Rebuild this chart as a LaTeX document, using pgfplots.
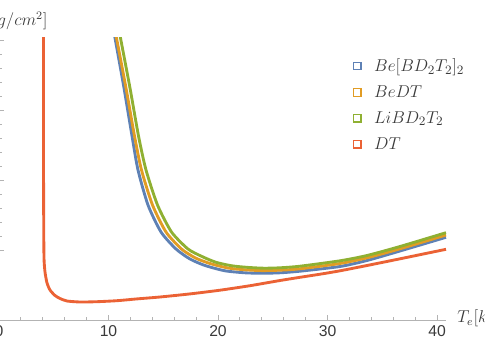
\documentclass[border=0pt]{standalone}
\usepackage{fontspec}
\setsansfont{Liberation Sans}
\usepackage{pgfplots}
\pgfplotsset{compat=1.18}
\definecolor{mblue}{HTML}{5E81B5}
\definecolor{morange}{HTML}{E19C24}
\definecolor{mgreen}{HTML}{8FB032}
\definecolor{mred}{HTML}{EB6235}
\definecolor{axgray}{HTML}{B3B3B3}
\definecolor{txtgray}{HTML}{3A3A3A}
\begin{document}
\begin{tikzpicture}
\begin{pgfinterruptboundingbox}
\begin{axis}[
  x=7.665pt, y=9.8pt,
  xmin=0, xmax=40.85, ymin=0, ymax=20.2,
  axis lines*=left,
  axis line style={axgray, line width=0.6pt},
  clip mode=individual,
  tick align=inside,
  tick style={axgray, line width=0.6pt},
  major tick length=3.5pt, minor tick length=2.2pt,
  xtick={0,10,20,30,40}, minor x tick num=4,
  ytick={5,10,15,20}, minor y tick num=4, yticklabels={},
  /pgf/number format/assume math mode=true,
  xticklabel style={font=\sffamily\fontsize{11}{13}\selectfont, text=txtgray},
  xlabel={$T_e[keV]$},
  xlabel style={at={(axis cs:41.83,-0.214)}, anchor=base west, inner sep=0pt, text=txtgray, font=\fontsize{12}{14}\selectfont},
  ylabel={$[g/cm^2]$},
  ylabel style={at={(axis cs:4.47,21.0)}, anchor=base east, inner sep=0pt, rotate=-90, text=txtgray, font=\fontsize{12}{14}\selectfont},
  legend style={at={(axis cs:31.9,19.1)}, anchor=north west, draw=none, fill=none,
    font=\fontsize{12.5}{14}\selectfont, text=txtgray, row sep=4.4pt},
  legend cell align=left,
  legend image code/.code={\draw[#1, line width=0.9pt, fill=none] (0pt,-2.6pt) rectangle (5.2pt,2.6pt); \path (11.5pt,0pt);},
  every axis plot/.append style={line width=2pt, smooth, tension=0.4},
]
\addplot[mblue] table {
10.457 20.714
10.594 20.143
11.416 16.571
12.146 13.143
12.694 10.714
13.607 8.214
14.795 6.286
16.164 5.071
17.443 4.357
18.813 3.893
20.639 3.514
22.466 3.371
24.018 3.336
25.662 3.371
27.489 3.486
31.142 3.821
33.607 4.250
36.621 4.929
40.822 5.907
};
\addlegendentry{$Be[BD_2T_2]_2$}
\addplot[morange] table {
10.594 20.714
10.731 20.143
11.598 16.571
12.374 13.143
13.014 10.714
14.018 8.214
15.251 6.286
16.667 5.071
17.945 4.429
19.269 4.036
20.913 3.714
22.466 3.586
24.018 3.529
25.662 3.557
27.489 3.657
31.142 4.036
33.607 4.443
36.621 5.086
40.822 6.071
};
\addlegendentry{$BeDT$}
\addplot[mgreen] table {
10.959 20.714
11.096 20.143
11.963 16.571
12.740 13.143
13.425 10.714
14.475 8.214
15.753 6.286
17.260 5.071
18.539 4.536
19.817 4.121
21.279 3.871
22.740 3.757
24.201 3.700
25.662 3.729
27.489 3.843
31.142 4.229
33.607 4.607
36.621 5.250
40.822 6.236
};
\addlegendentry{$LiBD_2T_2$}
\addplot[mred] table {
4.064 20.5
4.064 12.143
4.082 7.143
4.110 4.429
4.201 3.429
4.384 2.643
4.658 2.143
5.114 1.750
5.571 1.536
6.210 1.357
7.397 1.286
8.950 1.307
10.776 1.379
12.603 1.507
14.703 1.643
17.443 1.864
20.183 2.129
22.922 2.450
25.662 2.821
27.489 3.050
29.315 3.271
31.142 3.514
33.607 3.893
36.621 4.371
40.822 5.050
};
\addlegendentry{$DT$}
\coordinate (O) at (axis cs:0,0);
\end{axis}
\end{pgfinterruptboundingbox}
\useasboundingbox ([shift={(0.7pt,-28pt)}]O) rectangle ([shift={(340.2pt,224pt)}]O);
\end{tikzpicture}
\end{document}
